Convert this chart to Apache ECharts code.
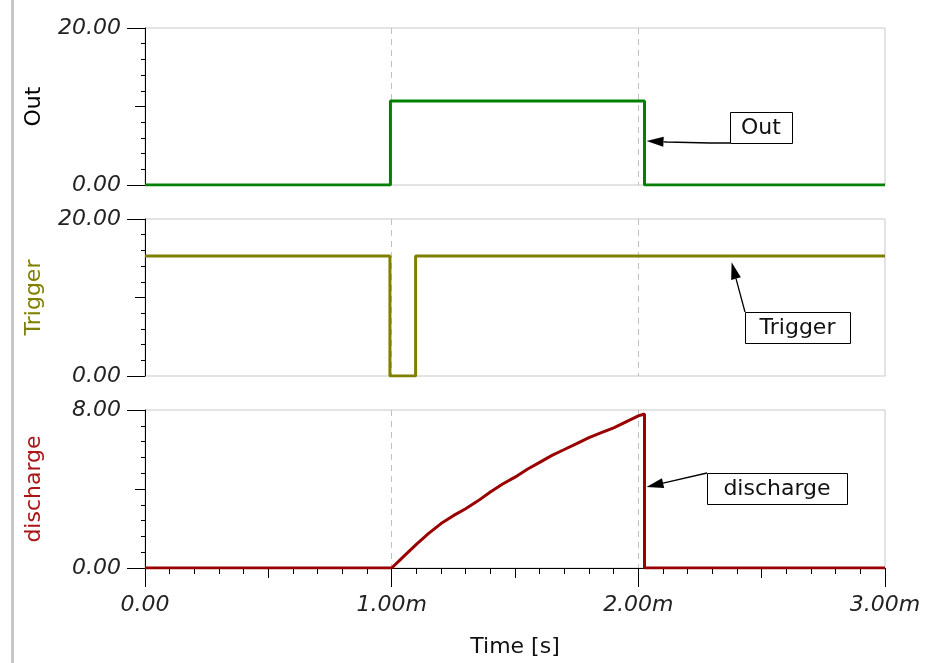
<!DOCTYPE html>
<html>
<head>
<meta charset="utf-8">
<script src="https://cdn.jsdelivr.net/npm/echarts@6/dist/echarts.min.js"></script>
<style>
html,body{margin:0;padding:0;background:#fff;}
#main{width:947px;height:663px;}
</style>
</head>
<body>
<div id="main"></div>
<script>
// ---- data (time in ms) ----
const xTicks = [0, 1, 2, 3];
const xTickLabels = ['0.00', '1.00m', '2.00m', '3.00m'];
const xAxisTitle = 'Time [s]';

const outTime  = [0, 0.995, 0.995, 2.025, 2.025, 3];
const outValue = [0, 0, 10.7, 10.7, 0, 0];

const trigTime  = [0, 0.993, 0.993, 1.097, 1.097, 3];
const trigValue = [15.3, 15.3, 0, 0, 15.3, 15.3];

const disTime  = [0, 1.0, 1.05, 1.10, 1.15, 1.20, 1.25, 1.30, 1.35, 1.40, 1.45, 1.50, 1.55, 1.60, 1.65, 1.70, 1.75, 1.80, 1.85, 1.90, 1.95, 2.00, 2.025, 2.025, 3];
const disValue = [0, 0, 0.6, 1.2, 1.75, 2.25, 2.65, 3.0, 3.4, 3.85, 4.25, 4.6, 5.0, 5.35, 5.7, 6.0, 6.3, 6.6, 6.85, 7.1, 7.4, 7.7, 7.8, 0, 0];

const panelNames = ['Out', 'Trigger', 'discharge'];
const panelMax = [20, 20, 8];
const yTickLabels = [['0.00', '20.00'], ['0.00', '20.00'], ['0.00', '8.00']];
const seriesColors = ['#008000', '#808000', '#990000'];
const nameColors = ['#000000', '#808000', '#aa1515'];

// annotation anchors (data coords: [time, value])
const annoTips = [[2.025, 5.6], [2.37, 14.5], [2.025, 4.1]];

// ---- layout ----
const grids = [
  {left: 145, top: 28, width: 740, height: 157},
  {left: 145, top: 219, width: 740, height: 157},
  {left: 145, top: 410, width: 740, height: 158}
];
const FONT = 'DejaVu Sans';

function zip(a, b) { return a.map((v, i) => [v, b[i]]); }
const seriesData = [zip(outTime, outValue), zip(trigTime, trigValue), zip(disTime, disValue)];

const gridOpts = [], xAxes = [], yAxes = [], series = [];
for (let p = 0; p < 3; p++) {
  gridOpts.push(Object.assign({show: true, borderColor: '#c8c8c8', borderWidth: 1, backgroundColor: 'transparent'}, grids[p]));
  const isBottom = p === 2;
  xAxes.push({
    gridIndex: p, type: 'value', min: 0, max: 3, interval: 1, position: 'bottom',
    axisLine: {show: isBottom, onZero: false, lineStyle: {color: '#000', width: 1}},
    axisTick: {show: isBottom, length: 19, lineStyle: {color: '#000', width: 1}},
    axisLabel: {
      show: isBottom, margin: 26, fontFamily: FONT, fontStyle: 'italic', fontSize: 22, color: '#222',
      formatter: v => { const i = xTicks.indexOf(Math.round(v * 1000) / 1000); return i >= 0 ? xTickLabels[i] : ''; }
    },
    splitLine: {show: true, showMinLine: false, showMaxLine: false, lineStyle: {color: '#c0c0c0', type: [6, 5], width: 1}},
    name: isBottom ? xAxisTitle : '', nameLocation: 'middle', nameGap: 68,
    nameTextStyle: {fontFamily: FONT, fontSize: 22, color: '#111'}
  });
  yAxes.push({
    gridIndex: p, type: 'value', min: 0, max: panelMax[p], interval: panelMax[p], position: 'left',
    axisLine: {show: true, onZero: false, lineStyle: {color: '#000', width: 1}},
    axisTick: {show: true, length: 18, lineStyle: {color: '#000', width: 1}},
    axisLabel: {
      margin: 24, fontFamily: FONT, fontStyle: 'italic', fontSize: 22, color: '#222',
      formatter: v => (v === 0 ? yTickLabels[p][0] : yTickLabels[p][1])
    },
    splitLine: {show: false},
    name: panelNames[p], nameLocation: 'middle', nameRotate: 90, nameGap: 100,
    nameTextStyle: {fontFamily: FONT, fontSize: 22, color: nameColors[p]}
  });
  series.push({
    type: 'line', xAxisIndex: p, yAxisIndex: p, data: seriesData[p], showSymbol: false,
    lineStyle: {color: seriesColors[p], width: 3}, z: 5, animation: false
  });
}
// overlay grids carrying the intermediate / minor ticks
for (let p = 0; p < 3; p++) {
  gridOpts.push(Object.assign({show: false}, grids[p]));
  const gi = 3 + p;
  const isBottom = p === 2;
  xAxes.push({
    gridIndex: gi, type: 'value', min: 0, max: 3, interval: 0.5, position: 'bottom',
    axisLine: {show: false, onZero: false},
    axisTick: {show: isBottom, length: 10, lineStyle: {color: '#000'}},
    minorTick: {show: isBottom, splitNumber: 5, length: 6, lineStyle: {color: '#000'}},
    axisLabel: {show: false}, splitLine: {show: false}
  });
  yAxes.push({
    gridIndex: gi, type: 'value', min: 0, max: panelMax[p], interval: panelMax[p] / 2, position: 'left',
    axisLine: {show: false, onZero: false},
    axisTick: {show: true, length: 10, lineStyle: {color: '#000'}},
    minorTick: {show: true, splitNumber: 5, length: 4, lineStyle: {color: '#000'}},
    axisLabel: {show: false}, splitLine: {show: false}
  });
}

const chart = echarts.init(document.getElementById('main'), null, {renderer: 'canvas'});
chart.setOption({
  animation: false,
  backgroundColor: '#ffffff',
  grid: gridOpts, xAxis: xAxes, yAxis: yAxes, series: series
});

// ---- annotations ----
const boxes = [
  {text: 'Out', x: 730, y: 112, w: 62, h: 31, path: [[730, 143], [710, 143], [667, 142]]},
  {text: 'Trigger', x: 745, y: 312, w: 105, h: 31, path: [[745, 312]]},
  {text: 'discharge', x: 707, y: 473, w: 140, h: 31, path: [[707, 473]]}
];
const graphics = [{type: 'rect', shape: {x: 11, y: 0, width: 3, height: 663}, style: {fill: '#c8c8c8'}, silent: true}];
boxes.forEach((b, i) => {
  const tip = chart.convertToPixel({xAxisIndex: i, yAxisIndex: i}, annoTips[i]);
  tip[0] += 2;
  const last = b.path[b.path.length - 1];
  const dx = tip[0] - last[0], dy = tip[1] - last[1];
  const len = Math.hypot(dx, dy), ux = dx / len, uy = dy / len;
  const L = 17, W = 5;
  const base = [tip[0] - ux * L, tip[1] - uy * L];
  graphics.push({type: 'polyline', shape: {points: b.path.concat([base])}, style: {stroke: '#000', lineWidth: 1.3, fill: null}, z: 100});
  graphics.push({type: 'polygon', shape: {points: [tip, [base[0] - uy * W, base[1] + ux * W], [base[0] + uy * W, base[1] - ux * W]]}, style: {fill: '#000'}, z: 100});
  graphics.push({type: 'rect', shape: {x: b.x + 0.5, y: b.y + 0.5, width: b.w, height: b.h}, style: {fill: '#fff', stroke: '#000', lineWidth: 1}, z: 100});
  graphics.push({type: 'text', x: b.x + b.w / 2, y: b.y + b.h / 2 + 1, style: {text: b.text, fontFamily: FONT, fontSize: 22, fill: '#111', align: 'center', verticalAlign: 'middle'}, z: 101});
});
chart.setOption({graphic: graphics});
</script>
</body>
</html>
